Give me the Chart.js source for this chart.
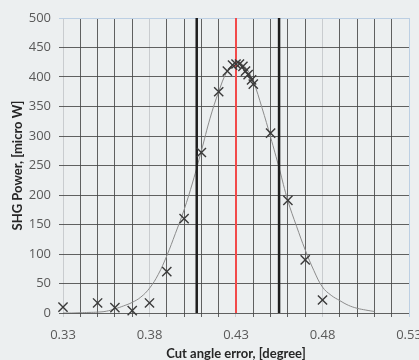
<!DOCTYPE html>
<html>
<head>
<meta charset="utf-8">
<script src="https://cdn.jsdelivr.net/npm/chart.js@4/dist/chart.umd.min.js"></script>
<style>
html,body{margin:0;padding:0;background:#eceff0;}
canvas{display:block;}
</style>
</head>
<body>
<canvas id="c" width="419" height="360"></canvas>
<script>
// Measured points (x markers)
const measX = [0.33,0.35,0.36,0.37,0.38,0.39,0.40,0.41,0.42,0.425,0.428,0.43,0.432,0.434,0.4355,0.437,0.439,0.44,0.45,0.46,0.47,0.48];
const measY = [10,17,9,4,17,70,160,272,375,410,420,422,422,418,410,404,395,388,305,191,90,22];
// Fitted curve
const fitX = [0.33,0.335,0.34,0.345,0.35,0.355,0.36,0.365,0.37,0.375,0.38,0.385,0.39,0.395,0.40,0.405,0.41,0.415,0.42,0.425,0.43,0.435,0.44,0.445,0.45,0.455,0.46,0.465,0.47,0.475,0.48,0.485,0.49,0.495,0.50,0.505,0.51];
const fitY = [0,0,0.5,1,1.5,3,7,12,18,27,42,65,97,135,175,222,275,330,375,410,424,418,392,348,298,245,190,147,107,72,44,30,21,13,8,5,2.5];
// Reference vertical lines
const blackLinesX = [0.4073, 0.4549];
const redLineX = 0.43;
const lineSpanY = [0, 500];
// Axis ticks
const xGridValues = [0.33,0.34,0.35,0.36,0.37,0.38,0.39,0.40,0.41,0.42,0.43,0.44,0.45,0.46,0.47,0.48,0.49,0.50,0.51,0.52,0.53];
const xLabelValues = ['0.33','0.38','0.43','0.48','0.53'];
const yTicks = [0,50,100,150,200,250,300,350,400,450,500];

const dark = 'rgba(70,70,70,0.85)';
const light = '#c9cccf';
const blueEdge = '#bccfe3';

const bg = {
  id:'bg',
  beforeDraw(chart){
    const c = chart.ctx; c.save(); c.fillStyle='#eceff0'; c.fillRect(0,0,chart.width,chart.height); c.restore();
  }
};

const vline = (x, color, w) => ({
  type:'line',
  data: lineSpanY.map(y => ({x:x, y:y})),
  borderColor: color, borderWidth: w, pointRadius: 0, showLine: true, fill:false, order: 1
});

new Chart(document.getElementById('c'), {
  type: 'scatter',
  data: {
    datasets: [
      {
        type:'scatter',
        data: measX.map((x,i)=>({x:x, y:measY[i]})),
        pointStyle:'crossRot', pointRadius:6.5, pointHoverRadius:6.5, clip:false,
        borderColor:'#3a3a3a', backgroundColor:'#3a3a3a', borderWidth:1.4, order:0
      },
      {
        type:'line',
        data: fitX.map((x,i)=>({x:x, y:fitY[i]})),
        borderColor:'#8c8c8c', borderWidth:1, pointRadius:0, tension:0.4, fill:false, order:2
      },
      vline(blackLinesX[0], '#1e1e1e', 2.5),
      vline(blackLinesX[1], '#1e1e1e', 2.5),
      vline(redLineX, '#f24a4a', 2)
    ]
  },
  options: {
    responsive:false, animation:false,
    plugins:{ legend:{display:false}, tooltip:{enabled:false} },
    layout:{ padding:{ top:18, right:10, left:0, bottom:0 } },
    scales:{
      x:{
        type:'linear', min:0.33, max:0.53,
        afterBuildTicks(s){ s.ticks = xGridValues.map(v=>({value:v})); },
        afterFit(s){ s.height = 47; s.paddingRight = 0; s.paddingLeft = 0; },
        ticks:{
          autoSkip:false, maxRotation:0, minRotation:0, padding:10,
          color:'#595959', font:{family:'Open Sans', size:13},
          callback(v){ const s = v.toFixed(2); return xLabelValues.includes(s) ? s : ''; }
        },
        grid:{
          color(ctx){ const v = ctx.tick ? ctx.tick.value : 0; const i = Math.round((v-0.33)*100);
            if (i===20) return blueEdge; if (i%5===0) return light; return dark; },
          lineWidth:1, tickLength:4
        },
        border:{ display:false },
        title:{ display:true, text:'Cut angle error, [degree]', color:'#262626',
          font:{family:'Lato', size:13, weight:'bold', lineHeight:1}, padding:{top:0,bottom:0} }
      },
      y:{
        type:'linear', min:0, max:500,
        afterBuildTicks(s){ s.ticks = yTicks.map(v=>({value:v})); },
        afterFit(s){ s.width = 63; },
        ticks:{ color:'#595959', font:{family:'Open Sans', size:13}, padding:8 },
        grid:{
          color(ctx){ const v = ctx.tick ? ctx.tick.value : 0; return v===500 ? blueEdge : dark; },
          lineWidth:1, tickLength:4
        },
        border:{ display:false },
        title:{ display:true, text:'SHG Power, [micro W]', color:'#262626',
          font:{family:'Lato', size:13, weight:'bold', lineHeight:1}, padding:{top:11,bottom:0} }
      }
    }
  },
  plugins:[bg]
});
</script>
</body>
</html>
